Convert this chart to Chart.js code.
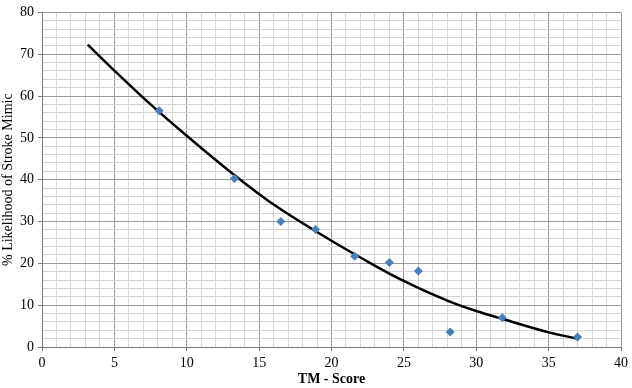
<!DOCTYPE html>
<html>
<head>
<meta charset="utf-8">
<script src="https://cdn.jsdelivr.net/npm/chart.js@4"></script>
<style>
  html, body { margin: 0; padding: 0; background: #fff; }
  #wrap { width: 632px; height: 388px; }
</style>
</head>
<body>
<div id="wrap"><canvas id="chart" width="632" height="388"></canvas></div>
<script>
// observed points (TM - Score, % likelihood)
const scoreX = [8.1, 13.3, 16.5, 18.9, 21.6, 24.0, 26.0, 28.2, 31.8, 37.0];
const mimicY = [56.5, 40.3, 30.0, 28.1, 21.7, 20.2, 18.2, 3.6, 7.0, 2.4];

// trend line
const trendX = [3.15, 5, 7.5, 10, 13, 15.7, 20, 22, 24.7, 28, 30, 32, 35, 37];
const trendY = [72.3, 66.1, 58.0, 50.5, 41.9, 34.8, 25.4, 21.4, 16.3, 11.1, 8.6, 6.5, 3.5, 2.0];

const xMajor = 5;
const yMajor = 10;

const serif = '"Liberation Serif", "Times New Roman", serif';
Chart.defaults.font.family = serif;
Chart.defaults.color = '#000';

const majorColor = '#9a9a9a';
const minorColor = '#d4d4d4';

new Chart(document.getElementById('chart'), {
    type: 'scatter',
    data: {
        datasets: [{
            data: trendX.map((x, i) => ({ x: x, y: trendY[i] })),
            showLine: true,
            borderColor: '#000',
            borderWidth: 2.5,
            pointRadius: 0,
            cubicInterpolationMode: 'monotone',
            order: 2
        }, {
            data: scoreX.map((x, i) => ({ x: x, y: mimicY[i] })),
            pointStyle: 'rectRot',
            pointRadius: 4.5,
            backgroundColor: '#4a7ebb',
            borderColor: '#4a7ebb',
            borderWidth: 0,
            order: 1
        }]
    },
    options: {
        responsive: false,
        animation: false,
        layout: { padding: { top: 11, right: 11, left: 0, bottom: 0 } },
        plugins: { legend: { display: false }, tooltip: { enabled: false } },
        scales: {
            x: {
                type: 'linear',
                min: 0,
                max: 40,
                afterFit: function(axis) { axis.height = 41; },
                ticks: {
                    stepSize: 1,
                    autoSkip: false,
                    maxRotation: 0,
                    padding: 4,
                    font: { size: 14 },
                    callback: function(v) { return v % xMajor === 0 ? v : ''; }
                },
                grid: {
                    color: function(c) { return c.tick && c.tick.value % xMajor === 0 ? majorColor : minorColor; },
                    tickColor: function(c) { return c.tick && c.tick.value % xMajor === 0 ? '#777' : 'rgba(0,0,0,0)'; },
                    tickLength: 4,
                    lineWidth: 1
                },
                border: { color: '#777' },
                title: {
                    display: true,
                    text: 'TM - Score',
                    font: { size: 14, weight: 'bold' },
                    padding: { top: 0, bottom: 0 }
                }
            },
            y: {
                min: 0,
                max: 80,
                afterFit: function(axis) { axis.width = 42; },
                ticks: {
                    stepSize: 2,
                    autoSkip: false,
                    padding: 4,
                    font: { size: 14 },
                    callback: function(v) { return v % yMajor === 0 ? v : ''; }
                },
                grid: {
                    color: function(c) { return c.tick && c.tick.value % yMajor === 0 ? majorColor : minorColor; },
                    tickColor: function(c) { return c.tick && c.tick.value % yMajor === 0 ? '#777' : 'rgba(0,0,0,0)'; },
                    tickLength: 4,
                    lineWidth: 1
                },
                border: { color: '#777' },
                title: {
                    display: true,
                    text: '% Likelihood of Stroke Mimic',
                    font: { size: 14 },
                    padding: { top: 0, bottom: 2 }
                }
            }
        }
    }
});
</script>
</body>
</html>
